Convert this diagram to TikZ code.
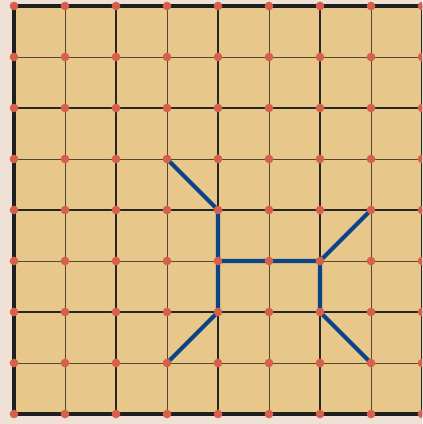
\documentclass[tikz,border=0pt]{standalone}
\usepackage{tikz}
\definecolor{paper}{RGB}{239,225,214}
\definecolor{board}{RGB}{231,200,138}
\definecolor{pointred}{RGB}{214,96,76}
\definecolor{pathblue}{RGB}{10,68,134}
\definecolor{gridthin}{RGB}{85,72,50}
\tikzset{
  thinline/.style={gridthin,line width=0.5pt},
  boldline/.style={black!85,line width=0.9pt},
  rimline/.style={black!88,line width=2.2pt},
  pathline/.style={pathblue,line width=2.3pt,line cap=round},
  gridpoint/.style={fill=pointred,draw=none}
}
\begin{document}
\begin{tikzpicture}
  \useasboundingbox (-0.2745,-0.196) rectangle (8,8.1176);
  \fill[paper] (-0.2745,-0.196) rectangle (8,8.1176);
  \clip (-0.2745,-0.196) rectangle (8,8.1176);
  % board
  \fill[board] (0,0) rectangle (8.6,8);
  \foreach \i in {1,3,5,7} {
    \draw[thinline] (\i,0) -- (\i,8);
    \draw[thinline] (0,\i) -- (8.6,\i);
  }
  \foreach \i in {2,4,6,8} {
    \draw[boldline] (\i,0) -- (\i,8);
    \draw[boldline] (0,\i) -- (8.6,\i);
  }
  \draw[rimline] (8.6,8) -- (0,8) -- (0,0) -- (8.6,0);
  % path
  \coordinate (a) at (3,5);
  \coordinate (b) at (4,4);
  \coordinate (c) at (4,3);
  \coordinate (d) at (6,3);
  \coordinate (e) at (7,4);
  \coordinate (f) at (6,2);
  \coordinate (g) at (7,1);
  \coordinate (h) at (4,2);
  \coordinate (k) at (3,1);
  \draw[pathline] (a) -- (b) -- (c) -- (d) -- (e);
  \draw[pathline] (d) -- (f) -- (g);
  \draw[pathline] (c) -- (h) -- (k);
  % points
  \foreach \x in {0,...,8}
    \foreach \y in {0,...,8}
      \fill[gridpoint] (\x,\y) circle (0.085);
\end{tikzpicture}
\end{document}
